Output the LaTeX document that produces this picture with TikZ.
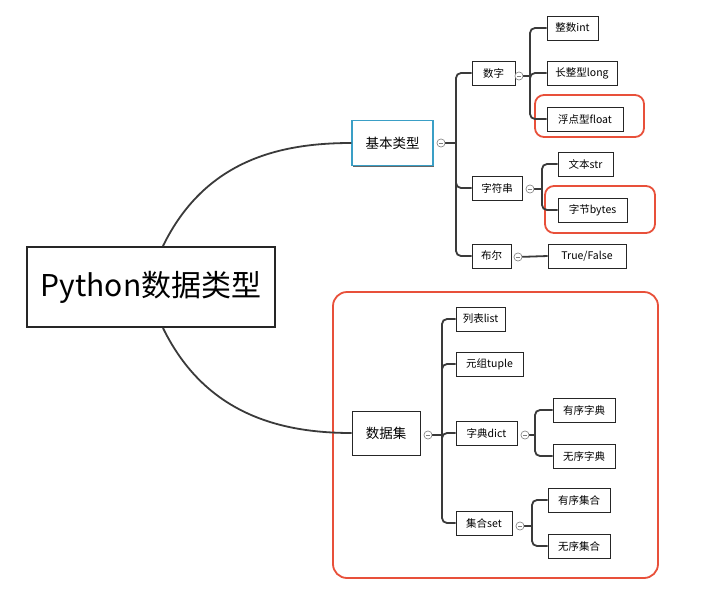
\documentclass[tikz,border=0pt]{standalone}
\usepackage{fontspec}
\setmainfont{Noto Sans CJK SC}
\usetikzlibrary{shadows}
\definecolor{redbox}{HTML}{E8503A}
\definecolor{bluebox}{HTML}{3A9FC6}
\definecolor{conncol}{HTML}{3A3A3A}
\tikzset{
  sk/.style={draw=black!85, line width=0.8pt, fill=white, inner sep=0pt,
    drop shadow={shadow xshift=1.3pt, shadow yshift=-1.3pt, fill=black!60, opacity=1}},
  leaf/.style={sk, minimum height=24pt, font=\fontsize{10.5}{12}\selectfont},
  mid/.style={sk, minimum height=44pt, font=\fontsize{13.5}{16}\selectfont},
  coll/.style={circle, draw=black!50, fill=white, line width=0.5pt, minimum size=8pt, inner sep=0pt,
    path picture={\draw[black!50, line width=0.5pt] ([xshift=-2pt]path picture bounding box.center) -- ([xshift=2pt]path picture bounding box.center);}},
  conn/.style={draw=conncol, line width=1.8pt, rounded corners=5pt},
  curve/.style={draw=conncol, line width=1.8pt},
  hl/.style={draw=redbox, line width=1.8pt, rounded corners=9pt},
}
\begin{document}
\begin{tikzpicture}[x=1pt,y=-1pt]
\useasboundingbox (0,0) rectangle (715,590);
% highlight frames
\draw[hl] (535,95) rectangle (644,137);
\draw[hl] (545,186) rectangle (655,233);
\draw[hl, rounded corners=14pt] (333,292) rectangle (658,578);

% coordinates for trunks
\coordinate (tjb) at (456,143);
\coordinate (tsz) at (530,76);
\coordinate (tzf) at (542,189);
\coordinate (tds) at (442,435);
\coordinate (tzd) at (535,435);
\coordinate (tjh) at (532,526);

% nodes
\node[sk, minimum width=248pt, minimum height=80pt, line width=1.1pt, font=\fontsize{30}{34}\selectfont] (root) at (151,287) {Python数据类型};
\node[mid, minimum width=81pt, minimum height=45pt, draw=bluebox, line width=1.5pt] (jb) at (392.5,143) {基本类型};
\node[mid, minimum width=68pt] (ds) at (386,433) {数据集};

\node[leaf, minimum width=43pt] (sz) at (493.5,73) {数字};
\node[leaf, minimum width=50pt] (zf) at (497,188) {字符串};
\node[leaf, minimum width=39pt] (be) at (491.5,256) {布尔};

\node[leaf, minimum width=51pt] (int) at (572.5,28) {整数int};
\node[leaf, minimum width=70pt] (lng) at (582,73) {长整型long};
\node[leaf, minimum width=76pt] (flt) at (585,119) {浮点型float};
\node[leaf, minimum width=55pt] (str) at (585.5,164) {文本str};
\node[leaf, minimum width=69pt] (byt) at (592.5,210) {字节bytes};
\node[leaf, minimum width=78pt] (tf) at (587,256) {True/False};

\node[leaf, minimum width=49pt] (lst) at (480.5,319) {列表list};
\node[leaf, minimum width=67pt] (tup) at (489.5,364) {元组tuple};
\node[leaf, minimum width=61pt] (dct) at (486.5,433) {字典dict};
\node[leaf, minimum width=56pt] (st) at (484,523) {集合set};
\node[leaf, minimum width=62pt] (yd) at (584,410) {有序字典};
\node[leaf, minimum width=62pt] (wd) at (584,456) {无序字典};
\node[leaf, minimum width=62pt] (yj) at (579,500) {有序集合};
\node[leaf, minimum width=62pt] (wj) at (579,546) {无序集合};

% collapse markers
\node[coll] (cjb) at (441,143) {};
\node[coll] (csz) at (519,76) {};
\node[coll] (czf) at (530,189) {};
\node[coll] (cbe) at (518,257) {};
\node[coll] (cds) at (428,435) {};
\node[coll] (cdc) at (525,435) {};
\node[coll] (cst) at (520,526) {};

% main curves
\coordinate (rt) at (163,246);
\coordinate (rb) at (163,328);
\draw[curve] (rt) .. controls (205,160) and (280,143) .. (jb.west);
\draw[curve] (rb) .. controls (205,414) and (280,433) .. (ds.west);

% 基本类型 subtree
\draw[conn] (cjb) -- (tjb);
\draw[conn] (tjb) |- (sz.west);
\draw[conn] (tjb) |- (zf.west);
\draw[conn] (tjb) |- (be.west);
\draw[conn] (csz) -- (tsz);
\draw[conn] (tsz) |- (int.west);
\draw[conn] (tsz) |- (lng.west);
\draw[conn] (tsz) |- (flt.west);
\draw[conn] (czf) -- (tzf);
\draw[conn] (tzf) |- (str.west);
\draw[conn] (tzf) |- (byt.west);
\draw[conn] (cbe) -- (tf.west);

% 数据集 subtree
\draw[conn] (cds) -- (tds);
\draw[conn] (tds) |- (lst.west);
\draw[conn] (tds) |- (tup.west);
\draw[conn] (tds) |- (dct.west);
\draw[conn] (tds) |- (st.west);
\draw[conn] (cdc) -- (tzd);
\draw[conn] (tzd) |- (yd.west);
\draw[conn] (tzd) |- (wd.west);
\draw[conn] (cst) -- (tjh);
\draw[conn] (tjh) |- (yj.west);
\draw[conn] (tjh) |- (wj.west);

% redraw markers on top
\node[coll] at (cjb) {};
\node[coll] at (csz) {};
\node[coll] at (czf) {};
\node[coll] at (cbe) {};
\node[coll] at (cds) {};
\node[coll] at (cdc) {};
\node[coll] at (cst) {};
\end{tikzpicture}
\end{document}
